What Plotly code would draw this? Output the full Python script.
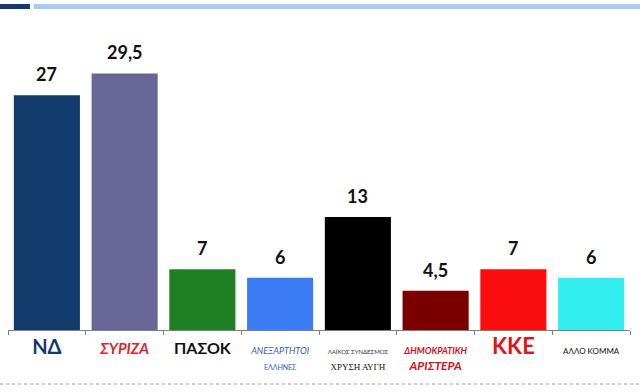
import plotly.graph_objects as go

parties = ["ΝΔ", "ΣΥΡΙΖΑ", "ΠΑΣΟΚ", "ΑΝΕΞΑΡΤΗΤΟΙ ΕΛΛΗΝΕΣ", "ΧΡΥΣΗ ΑΥΓΗ",
           "ΔΗΜΟΚΡΑΤΙΚΗ ΑΡΙΣΤΕΡΑ", "ΚΚΕ", "ΑΛΛΟ ΚΟΜΜΑ"]
values = [27, 29.5, 7, 6, 13, 4.5, 7, 6]
colors = ["#123a6b", "#686597", "#1f7f23", "#3b7cf4", "#000000",
          "#7a0000", "#fb0d0d", "#33eeee"]
tick_labels = [
    '<span style="font-size:20px;color:#123a6b"><b>ΝΔ</b></span>',
    '<span style="font-size:15px;color:#d9262e"><b><i>ΣΥΡΙΖΑ</i></b></span>',
    '<span style="font-size:16px;color:#111111"><b>ΠΑΣΟΚ</b></span>',
    '<span style="font-size:9px;color:#3060b0"><i>ΑΝΕΞΑΡΤΗΤΟΙ</i></span><br><span style="font-size:7px;color:#3060b0">ΕΛΛΗΝΕΣ</span>',
    '<span style="font-size:6px;color:#333333">ΛΑΪΚΟΣ ΣΥΝΔΕΣΜΟΣ</span><br><span style="font-size:9px;color:#111111;font-family:Liberation Serif">ΧΡΥΣΗ ΑΥΓΗ</span>',
    '<span style="font-size:9px;color:#d01020"><b><i>ΔΗΜΟΚΡΑΤΙΚΗ</i></b></span><br><span style="font-size:12px;color:#d01020"><b><i>ΑΡΙΣΤΕΡΑ</i></b></span>',
    '<span style="font-size:22px;color:#e0141c"><b>ΚΚΕ</b></span>',
    '<span style="font-size:8px;color:#111111">ΑΛΛΟ ΚΟΜΜΑ</span>',
]

fig = go.Figure(go.Bar(
    x=parties, y=values, marker=dict(color=colors, line=dict(width=0)),
    width=0.85, hoverinfo="skip",
))

for p, v in zip(parties, values):
    fig.add_annotation(x=p, y=v, text="<b>" + (f"{v:g}".replace(".", ",")) + "</b>",
                       showarrow=False, yanchor="bottom", yshift=8,
                       font=dict(family="Lato", size=18, color="#111111"))

L, R, T, B = 8, 10, 30, 62
W, H = 640, 392
pw, ph = W - L - R, H - T - B

def px(x):
    return (x - L) / pw

def py(y):
    return (H - B - y) / ph

shapes = [
    dict(type="rect", xref="paper", yref="paper", x0=px(0), x1=px(30), y0=py(9), y1=py(4),
         fillcolor="#123a6b", line=dict(width=0)),
    dict(type="rect", xref="paper", yref="paper", x0=px(34), x1=px(640), y0=py(9), y1=py(4),
         fillcolor="#a6cdf2", line=dict(width=0)),
    dict(type="line", xref="paper", yref="paper", x0=px(0), x1=px(640), y0=py(384), y1=py(384),
         line=dict(color="#9a9a9a", width=1, dash="dot")),
]

fig.update_layout(
    width=W, height=H,
    margin=dict(l=L, r=R, t=T, b=B),
    paper_bgcolor="white", plot_bgcolor="white",
    showlegend=False, bargap=0.15,
    shapes=shapes,
    font=dict(family="Lato", color="#111111"),
    xaxis=dict(tickmode="array", tickvals=parties, ticktext=tick_labels,
               tickson="boundaries", ticks="outside", ticklen=4, tickcolor="#7f7f7f",
               ticklabelstandoff=9,
               showline=True, linecolor="#7f7f7f", linewidth=1, showgrid=False,
               tickangle=0, fixedrange=True),
    yaxis=dict(range=[0, 34.5], visible=False, showgrid=False, fixedrange=True),
)

fig.write_html("out.html")
